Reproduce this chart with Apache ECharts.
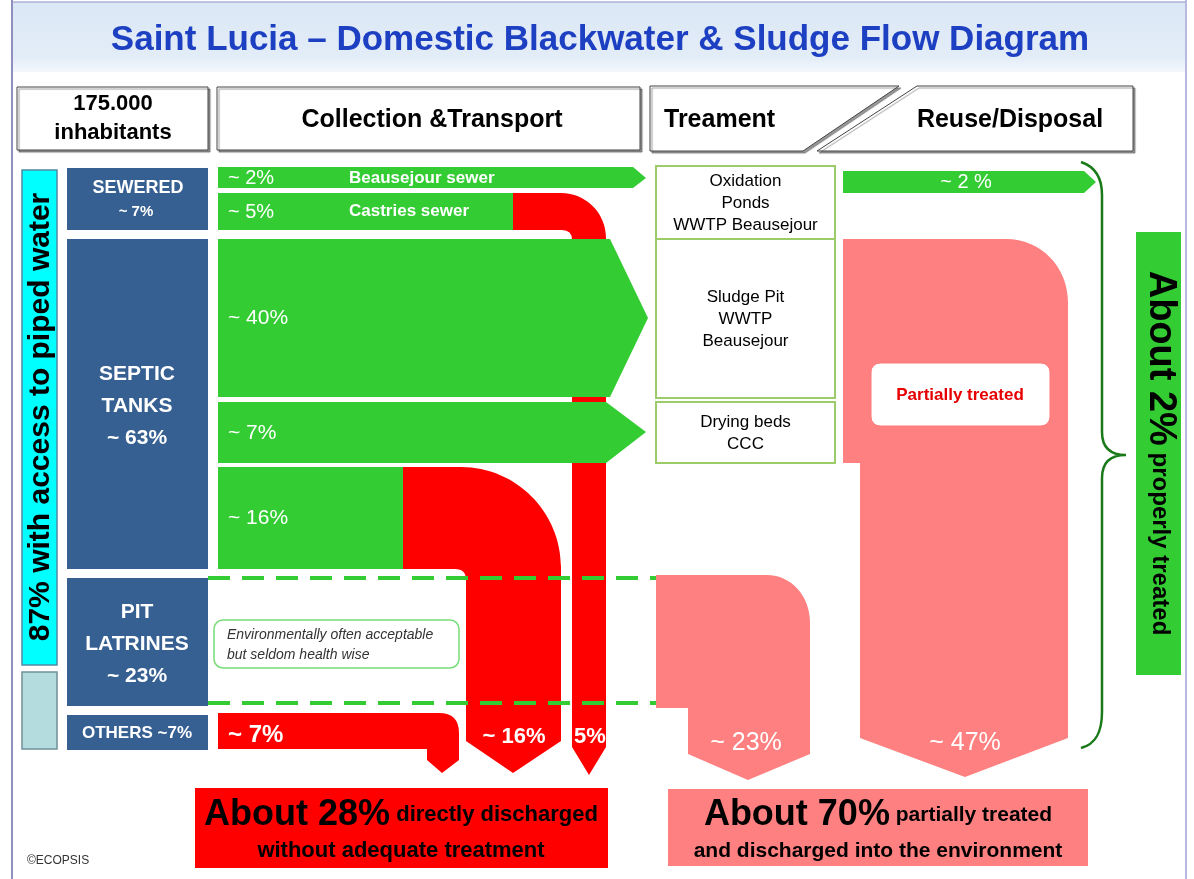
<!DOCTYPE html>
<html><head><meta charset="utf-8">
<script src="https://cdn.jsdelivr.net/npm/echarts@6/dist/echarts.min.js"></script>
<style>html,body{margin:0;padding:0;background:#fff}#chart{width:1194px;height:879px}</style>
</head><body><div id="chart"></div>
<script>
// ---------------- data ----------------
const titleText = 'Saint Lucia \u2013 Domestic Blackwater & Sludge Flow Diagram';
const population = '175.000';
const populationUnit = 'inhabitants';
const stageLabels = ['Collection &Transport', 'Treament', 'Reuse/Disposal'];
const sourceNames = ['SEWERED', 'SEPTIC\nTANKS', 'PIT\nLATRINES', 'OTHERS'];
const sourceShares = [7, 63, 23, 7];
const pipedShare = 87;
const flowNames = ['Beausejour sewer', 'Castries sewer', '', '', ''];
const flowShares = [2, 5, 40, 7, 16];
const treatmentNames = ['Oxidation\nPonds\nWWTP Beausejour', 'Sludge Pit\nWWTP\nBeausejour', 'Drying beds\nCCC'];
const reuseShare = 2;
const directParts = [7, 16, 5];
const partialParts = [23, 47];
const partialNote = 'Partially treated';
const pitNote = ['Environmentally often acceptable', 'but seldom health wise'];
const properShare = 2;
const directTotal = 28;
const partialTotal = 70;
const credit = '\u00A9ECOPSIS';

// ---------------- layout (diagram units = pixels) ----------------
const L = {
  band: [12, 2, 1174, 70],
  hdrBox1: [17, 87, 191, 63], hdrBox2: [217, 87, 423, 63],
  hdrTreat: [[650, 86], [899, 86], [803, 151], [650, 151]],
  hdrReuse: [[917, 86], [1133, 86], [1133, 151], [817, 151]],
  cyan: [22, 170, 35, 495], grey: [22, 672, 35, 77],
  srcBoxes: [[67, 168, 141, 62], [67, 239, 141, 330], [67, 578, 141, 128], [67, 715, 141, 35]],
  redCastries: [['M',513,193],['L',561,193],['C',586,193,606,213,606,238],['L',606,747],['L',589,775],['L',572,747],['L',572,240],['Q',572,230,562,230],['L',513,230],['Z']],
  red16: [['M',403,467],['L',461,467],['C',516,467,561,512,561,567],['L',561,741],['L',513,773],['L',466,741],['L',466,580],['Q',466,569,455,569],['L',403,569],['Z']],
  redOthers: [['M',218,713],['L',439,713],['Q',459,713,459,733],['L',459,760],['L',442,773],['L',427,760],['L',427,749],['L',218,749],['Z']],
  greens: [
    [[218,167],[633,167],[646,178],[633,188],[218,188]],
    [[218,193],[513,193],[513,230],[218,230]],
    [[218,239],[610,239],[648,318],[610,397],[218,397]],
    [[218,402],[606,402],[646,432],[606,463],[218,463]],
    [[218,467],[403,467],[403,569],[218,569]]
  ],
  dashY: [578, 703], dashX: [208, 656],
  envBox: [214, 620, 245, 48],
  treatBoxes: [[656, 166, 179, 73], [656, 239, 179, 159], [656, 402, 179, 61]],
  pink47: [['M',843,239],['L',1006,239],['C',1041,239,1068,267,1068,302],['L',1068,738],['L',965,777],['L',860,738],['L',860,463],['L',843,463],['Z']],
  pink23: [['M',656,575],['L',767,575],['C',791,575,810,596,810,622],['L',810,754],['L',748,780],['L',688,754],['L',688,708],['L',656,708],['Z']],
  noteBox: [871, 363, 179, 63],
  reuseArrow: [[843,171],[1084,171],[1096,182],[1084,193],[843,193]],
  brace: [['M',1081,162],['C',1096,167,1102,178,1102,195],['L',1102,432],['C',1102,447,1110,455,1126,455],['C',1110,455,1102,463,1102,478],['L',1102,712],['C',1102,732,1096,744,1081,748]],
  properBox: [1136, 232, 45, 443],
  redBox: [195, 788, 413, 80], pinkBox: [668, 789, 420, 77]
};
const C = {
  navy: '#366092', cyan: '#00ffff', grey: '#b4dcdf', green: '#33cc33',
  red: '#ff0000', pink: '#ff8080', boxLine: '#9ccc6a', brace: '#1a7a1a', title: '#1d3fc2'
};
const FONT = '"Liberation Sans", Arial, Helvetica, sans-serif';

function renderDiagram(params, api) {
  const P = (x, y) => api.coord([x, y]);
  const rect = (r, style, rad) => {
    const a = P(r[0], r[1]), b = P(r[0] + r[2], r[1] + r[3]);
    return { type: 'rect', shape: { x: a[0], y: a[1], width: b[0] - a[0], height: b[1] - a[1], r: rad || 0 }, style };
  };
  const poly = (pts, style) => ({ type: 'polygon', shape: { points: pts.map(p => P(p[0], p[1])) }, style });
  const toPath = cmds => cmds.map(c => {
    let out = c[0];
    for (let i = 1; i < c.length; i += 2) { const q = P(c[i], c[i + 1]); out += ' ' + q[0] + ' ' + q[1]; }
    return out;
  }).join(' ');
  const path = (cmds, style) => ({ type: 'path', shape: { pathData: toPath(cmds) }, style });
  const line = (x1, y1, x2, y2, style) => { const a = P(x1, y1), b = P(x2, y2); return { type: 'line', shape: { x1: a[0], y1: a[1], x2: b[0], y2: b[1] }, style }; };
  const text = (x, y, str, o) => {
    const p = P(x, y);
    o = o || {};
    return {
      type: 'text', x: p[0], y: p[1], rotation: o.rot || 0, z2: 10,
      style: {
        text: str, fill: o.fill || '#000', fontSize: o.size || 14, fontWeight: o.weight || 'normal',
        fontStyle: o.style || 'normal', fontFamily: FONT, align: o.align || 'center', verticalAlign: 'middle',
        lineHeight: o.lh, rich: o.rich
      }
    };
  };
  const shadow = { shadowColor: 'rgba(0,0,0,0.4)', shadowOffsetX: 2, shadowOffsetY: 2, shadowBlur: 1 };
  const els = [];

  // title band + frame
  els.push(rect(L.band, { fill: new echarts.graphic.LinearGradient(0, 0, 0, 1, [
    { offset: 0, color: '#dbe7f5' }, { offset: 0.8, color: '#e3edf8' }, { offset: 1, color: '#f4f8fc' }]) }));
  els.push(line(12, 2, 1186, 2, { stroke: '#a8b0d8', lineWidth: 1.5 }));
  els.push(line(12, 0, 12, 879, { stroke: '#8f8fc0', lineWidth: 2 }));
  els.push(line(1186, 0, 1186, 879, { stroke: '#b8b8e0', lineWidth: 2 }));
  els.push(text(600, 40, titleText, { fill: C.title, size: 35, weight: 'bold' }));

  // header boxes
  const hdrStyle = Object.assign({ fill: '#fff', stroke: '#444', lineWidth: 1 }, shadow);
  els.push(rect(L.hdrBox1, hdrStyle));
  els.push(rect(L.hdrBox2, hdrStyle));
  els.push(poly(L.hdrTreat, hdrStyle));
  els.push(poly(L.hdrReuse, hdrStyle));
  els.push(text(113, 104, population, { size: 22, weight: 'bold' }));
  els.push(text(113, 133, populationUnit, { size: 22, weight: 'bold' }));
  els.push(text(432, 120, stageLabels[0], { size: 25, weight: 'bold' }));
  els.push(text(664, 120, stageLabels[1], { size: 25, weight: 'bold', align: 'left' }));
  els.push(text(1010, 120, stageLabels[2], { size: 25, weight: 'bold' }));

  // left bars
  els.push(rect(L.cyan, { fill: C.cyan, stroke: '#4f8aa6', lineWidth: 1.5 }));
  els.push(rect(L.grey, { fill: C.grey, stroke: '#6e9098', lineWidth: 1.5 }));
  els.push(text(41, 417, pipedShare + '% with access to piped water', { size: 30, weight: 'bold', rot: Math.PI / 2 }));

  // source boxes
  L.srcBoxes.forEach(r => els.push(rect(r, { fill: C.navy })));
  els.push(text(138, 188, sourceNames[0], { size: 18, weight: 'bold', fill: '#fff' }));
  els.push(text(136, 212, '~ ' + sourceShares[0] + '%', { size: 15, weight: 'bold', fill: '#fff' }));
  els.push(text(137, 406, sourceNames[1] + '\n~ ' + sourceShares[1] + '%', { size: 21, weight: 'bold', fill: '#fff', lh: 32 }));
  els.push(text(137, 644, sourceNames[2] + '\n~ ' + sourceShares[2] + '%', { size: 21, weight: 'bold', fill: '#fff', lh: 32 }));
  els.push(text(137, 733, sourceNames[3] + ' ~' + sourceShares[3] + '%', { size: 17, weight: 'bold', fill: '#fff' }));

  // red (direct discharge) flows
  els.push(path(L.redCastries, { fill: C.red }));
  els.push(path(L.red16, { fill: C.red }));
  els.push(path(L.redOthers, { fill: C.red }));

  // green flows
  L.greens.forEach(g => els.push(poly(g, { fill: C.green })));

  // dashed pit latrine band
  L.dashY.forEach(y => els.push(line(L.dashX[0], y, L.dashX[1], y, { stroke: C.green, lineWidth: 4, lineDash: [22, 12] })));
  els.push(rect(L.envBox, { fill: '#fff', stroke: '#77dd77', lineWidth: 1.5 }, 9));
  els.push(text(227, 635, pitNote[0], { size: 14, style: 'italic', fill: '#333', align: 'left' }));
  els.push(text(227, 655, pitNote[1], { size: 14, style: 'italic', fill: '#333', align: 'left' }));

  // treatment boxes
  L.treatBoxes.forEach((r, i) => {
    els.push(rect(r, { fill: '#fff', stroke: C.boxLine, lineWidth: 2 }));
    els.push(text(r[0] + r[2] / 2, r[1] + r[3] / 2 + 1, treatmentNames[i], { size: 17, lh: 22 }));
  });

  // partially treated flows
  els.push(path(L.pink23, { fill: C.pink }));
  els.push(path(L.pink47, { fill: C.pink }));
  els.push(rect(L.noteBox, { fill: '#fff', stroke: '#ff7b7b', lineWidth: 1 }, 9));
  els.push(text(960, 395, partialNote, { size: 17, weight: 'bold', fill: '#e60000' }));

  // reuse arrow, brace, properly treated box
  els.push(poly(L.reuseArrow, { fill: C.green }));
  els.push(text(966, 182, '~ ' + reuseShare + ' %', { size: 20, fill: '#fff' }));
  els.push(path(L.brace, { fill: null, stroke: C.brace, lineWidth: 2.5 }));
  els.push(rect(L.properBox, { fill: C.green }));
  els.push(text(1160, 453, '{a|About ' + properShare + '%}{b| properly treated}', {
    rot: -Math.PI / 2,
    rich: {
      a: { fontSize: 38, fontWeight: 'bold', fontFamily: FONT, fill: '#000' },
      b: { fontSize: 24, fontWeight: 'bold', fontFamily: FONT, fill: '#000' }
    }
  }));

  // flow labels
  const gl = [[228, 178, 20], [228, 212, 20], [228, 318, 21], [228, 433, 21], [228, 518, 21]];
  flowShares.forEach((v, i) => els.push(text(gl[i][0], gl[i][1], '~ ' + v + '%', { size: gl[i][2], fill: '#fff', align: 'left' })));
  els.push(text(349, 178, flowNames[0], { size: 17, weight: 'bold', fill: '#fff', align: 'left' }));
  els.push(text(349, 211, flowNames[1], { size: 17, weight: 'bold', fill: '#fff', align: 'left' }));
  els.push(text(228, 735, '~ ' + directParts[0] + '%', { size: 24, weight: 'bold', fill: '#fff', align: 'left' }));
  els.push(text(514, 737, '~ ' + directParts[1] + '%', { size: 22, weight: 'bold', fill: '#fff' }));
  els.push(text(590, 737, directParts[2] + '%', { size: 22, weight: 'bold', fill: '#fff' }));
  els.push(text(746, 743, '~ ' + partialParts[0] + '%', { size: 25, fill: '#fff' }));
  els.push(text(965, 743, '~ ' + partialParts[1] + '%', { size: 25, fill: '#fff' }));

  // summary boxes
  els.push(rect(L.redBox, { fill: C.red }));
  els.push(text(401, 815, '{a|About ' + directTotal + '%}{b| directly discharged}', {
    rich: { a: { fontSize: 36, fontWeight: 'bold', fontFamily: FONT, fill: '#000' },
            b: { fontSize: 22, fontWeight: 'bold', fontFamily: FONT, fill: '#000' } }
  }));
  els.push(text(401, 851, 'without adequate treatment', { size: 22, weight: 'bold' }));
  els.push(rect(L.pinkBox, { fill: C.pink }));
  els.push(text(878, 815, '{a|About ' + partialTotal + '%}{b| partially treated}', {
    rich: { a: { fontSize: 36, fontWeight: 'bold', fontFamily: FONT, fill: '#000' },
            b: { fontSize: 21, fontWeight: 'bold', fontFamily: FONT, fill: '#000' } }
  }));
  els.push(text(878, 851, 'and discharged into the environment', { size: 21, weight: 'bold' }));
  els.push(text(27, 861, credit, { size: 12, fill: '#333', align: 'left' }));

  return { type: 'group', children: els };
}

const chart = echarts.init(document.getElementById('chart'), null, { renderer: 'canvas' });
chart.setOption({
  animation: false,
  backgroundColor: '#ffffff',
  grid: { left: 0, right: 0, top: 0, bottom: 0 },
  xAxis: { type: 'value', min: 0, max: 1194, show: false },
  yAxis: { type: 'value', min: 0, max: 879, inverse: true, show: false },
  series: [{ type: 'custom', silent: true, clip: false, renderItem: renderDiagram, data: [[0, 0]] }]
});
</script></body></html>
